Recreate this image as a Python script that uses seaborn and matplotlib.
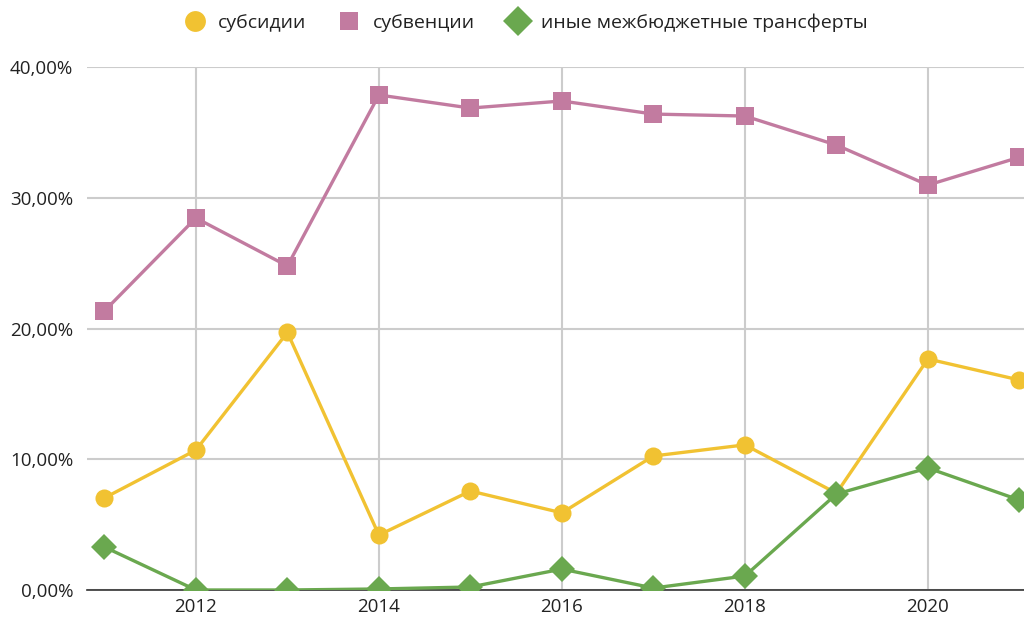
import numpy as np
import pandas as pd
import matplotlib
matplotlib.use("Agg")
import matplotlib.pyplot as plt
from matplotlib.lines import Line2D
from matplotlib.ticker import FuncFormatter, MultipleLocator
import seaborn as sns

# --- Dados ---
anos = [2011, 2012, 2013, 2014, 2015, 2016, 2017, 2018, 2019, 2020, 2021]
subsidii = [7.04, 10.7, 19.7, 4.2, 7.57, 5.9, 10.25, 11.1, 7.4, 17.67, 16.06]
subventsii = [21.34, 28.45, 24.78, 37.86, 36.86, 37.4, 36.4, 36.25, 34.03, 30.97, 33.1]
inye = [3.29, 0.0, 0.0, 0.08, 0.23, 1.6, 0.15, 1.07, 7.34, 9.33, 6.88]

series = ["субсидии", "субвенции", "иные межбюджетные трансферты"]
cores = {"субсидии": "#f1c232", "субвенции": "#c27ba0",
         "иные межбюджетные трансферты": "#6aa84f"}
marcadores = {"субсидии": "o", "субвенции": "s",
              "иные межбюджетные трансферты": "D"}

df = pd.DataFrame({
    "ano": anos * 3,
    "valor": subsidii + subventsii + inye,
    "serie": np.repeat(series, len(anos)),
})

sns.set_style("white")
plt.rcParams["font.family"] = ["Open Sans", "DejaVu Sans"]

fig = plt.figure(figsize=(10.24, 6.19), dpi=100)
ax = fig.add_axes([87 / 1024, 29 / 619, 1 - 87 / 1024, (590 - 67) / 619])

sns.lineplot(
    data=df, x="ano", y="valor", hue="serie", style="serie",
    hue_order=series, style_order=series, palette=cores,
    markers=marcadores, dashes=False, linewidth=2.4,
    markersize=13, markeredgewidth=0, legend=False, ax=ax, zorder=3,
)

ax.set_xlim(2010.81, 2021.05)
ax.set_ylim(0, 40)
ax.xaxis.set_major_locator(MultipleLocator(2))
ax.yaxis.set_major_locator(MultipleLocator(10))
ax.yaxis.set_major_formatter(FuncFormatter(lambda v, p: f"{v:.2f}%".replace(".", ",")))

ax.grid(True, color="#cccccc", linewidth=1.5)
ax.set_axisbelow(True)
for lado in ["top", "right", "left"]:
    ax.spines[lado].set_visible(False)
ax.spines["bottom"].set_color("#333333")
ax.spines["bottom"].set_linewidth(1.2)
ax.spines["bottom"].set_zorder(2)

ax.tick_params(axis="both", length=0, labelsize=13.5, colors="#222222")
ax.tick_params(axis="y", pad=10)
ax.tick_params(axis="x", pad=6)
ax.set_xlabel("")
ax.set_ylabel("")

handles = [Line2D([], [], linestyle="none", marker=marcadores[s], color=cores[s],
                  markersize=15 if s != "субвенции" else 13, markeredgewidth=0)
           for s in series]
fig.legend(handles, series, loc="center", bbox_to_anchor=(0.513, 0.964), ncol=3,
           frameon=False, fontsize=14, handlelength=1.2, handletextpad=0.6,
           columnspacing=1.6, labelcolor="#222222")

fig.savefig("out.png", dpi=100)
